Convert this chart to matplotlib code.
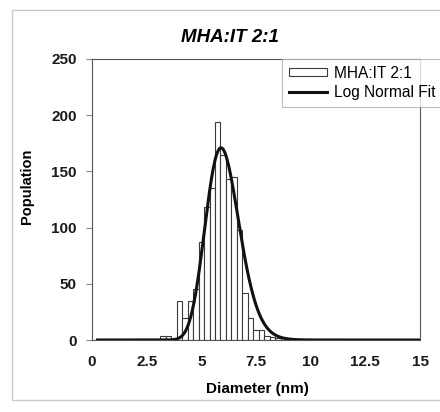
import numpy as np
import matplotlib
matplotlib.use("Agg")
import matplotlib.pyplot as plt
from matplotlib.patches import Rectangle

plt.rcParams['font.family'] = ['Liberation Sans', 'DejaVu Sans']

# Histogram of particle diameters (bin centres in nm, bin width 0.25 nm)
bin_centers = [3.25, 3.5, 3.75, 4.0, 4.25, 4.5, 4.75, 5.0, 5.25, 5.5, 5.75,
               6.0, 6.25, 6.5, 6.75, 7.0, 7.25, 7.5, 7.75, 8.0, 8.25, 8.5]
counts = [4, 4, 0, 35, 20, 35, 45, 87, 118, 135, 194,
          165, 143, 145, 98, 42, 20, 9, 9, 4, 3, 2]
bin_width = 0.25

# Log-normal fit parameters
fit_amplitude = 171.0
fit_center = 5.9
fit_width = 0.13
fit_x_range = (0.25, 15.0)

x_ticks = [0, 2.5, 5, 7.5, 10, 12.5, 15]
x_tick_labels = ['0', '2.5', '5', '7.5', '10', '12.5', '15']
y_ticks = [0, 50, 100, 150, 200, 250]

fig = plt.figure(figsize=(4.40, 4.12), dpi=100)

# outer chart frame
fig.patches.append(Rectangle((12 / 440, 1 - 400 / 412), 440 / 440, (400 - 10) / 412,
                             transform=fig.transFigure, fill=False,
                             edgecolor='#c8c8c8', linewidth=1.0))

ax = fig.add_axes([92 / 440, 1 - 340 / 412, (420 - 92) / 440, (340 - 59) / 412])

bars = ax.bar(bin_centers, counts, width=bin_width, facecolor='white',
              edgecolor='#3a3a3a', linewidth=0.8, label='MHA:IT 2:1', zorder=2)

xf = np.linspace(fit_x_range[0], fit_x_range[1], 600)
yf = fit_amplitude * np.exp(-np.log(xf / fit_center) ** 2 / (2 * fit_width ** 2))
fit_line, = ax.plot(xf, yf, color='#111111', linewidth=2.2,
                    label='Log Normal Fit', zorder=3)

ax.set_xlim(0, 15)
ax.set_ylim(0, 250)
ax.set_xticks(x_ticks)
ax.set_xticklabels(x_tick_labels)
ax.set_yticks(y_ticks)
ax.tick_params(axis='x', length=0, pad=11, labelsize=11)
ax.tick_params(axis='y', length=4, direction='out', pad=7, labelsize=11,
               color='#888888')
for lab in ax.get_xticklabels() + ax.get_yticklabels():
    lab.set_fontweight('bold')
    lab.set_color('#1a1a1a')

for s in ax.spines.values():
    s.set_color('#555555')
    s.set_linewidth(0.8)

ax.set_xlabel('Diameter (nm)', fontsize=11, fontweight='bold')
ax.xaxis.set_label_coords((257 - 92) / 328, -(382 - 340) / 281)
ax.set_ylabel('Population', fontsize=10.5, fontweight='bold')
ax.yaxis.set_label_coords((34 - 92) / 328, (340 - 186) / 281)

fig.text(230 / 440, 1 - 37 / 412, 'MHA:IT 2:1', ha='center', va='center',
         fontsize=13.5, fontweight='bold', fontstyle='italic')

leg = ax.legend([bars, fit_line], ['MHA:IT 2:1', 'Log Normal Fit'],
                loc='upper left', bbox_to_anchor=(282 / 440, 1 - 59 / 412),
                bbox_transform=fig.transFigure, fontsize=11.2, frameon=True,
                fancybox=False, handlelength=2.5, handleheight=0.4,
                borderpad=0.42, labelspacing=0.3, handletextpad=0.45,
                borderaxespad=0)
leg.get_frame().set_edgecolor('#aaaaaa')
leg.get_frame().set_linewidth(0.8)

fig.savefig('out.png', dpi=100)
